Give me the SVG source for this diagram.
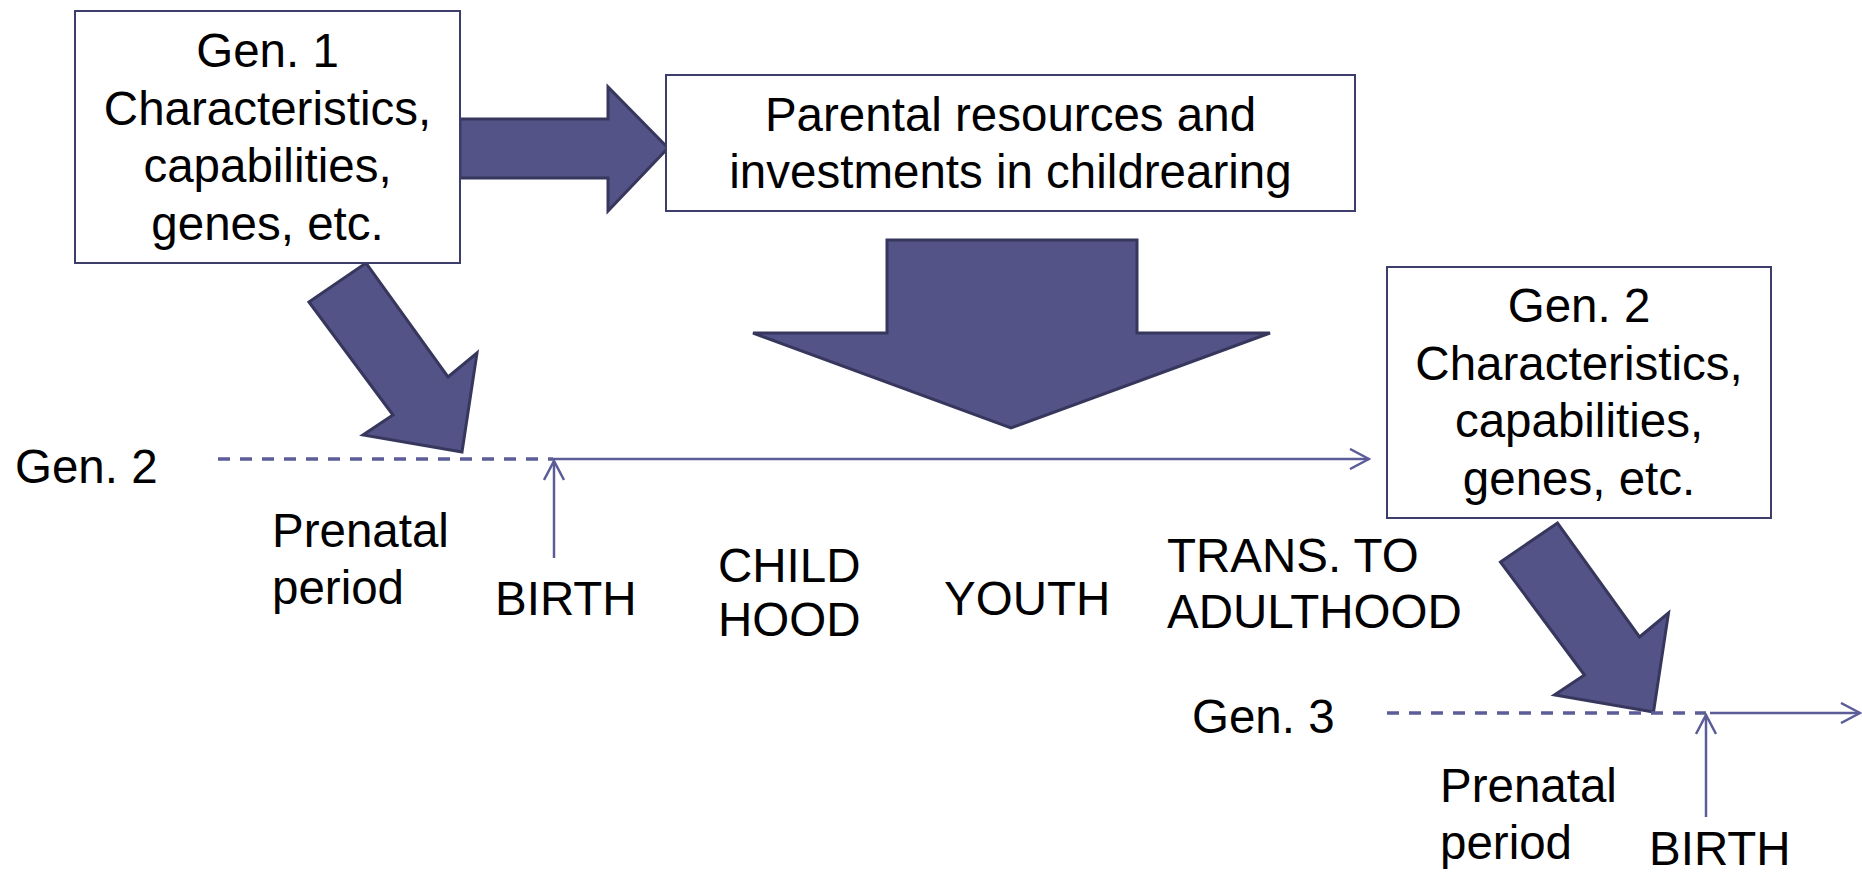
<svg xmlns="http://www.w3.org/2000/svg" width="1862" height="876" viewBox="0 0 1862 876">
  <style>
    .box { fill: #ffffff; stroke: #3d3d6b; stroke-width: 2; }
    .txt { font-family: "Liberation Sans", Arial, sans-serif; font-size: 47.5px; fill: #000000; }
    .mid { text-anchor: middle; }
    .big { fill: #535388; stroke: #37375e; stroke-width: 3; stroke-linejoin: miter; }
    .tl { stroke: #5c5c98; stroke-width: 2.5; fill: none; }
    .dash { stroke-dasharray: 12 10; stroke-width: 3.5; }
  </style>
  <defs>
    <marker id="chev" viewBox="-21 -11 23 22" refX="0" refY="0" markerWidth="23" markerHeight="22" markerUnits="userSpaceOnUse" orient="auto">
      <path d="M-19,-10 L0,0 L-19,10" fill="none" stroke="#5c5c98" stroke-width="2.5"/>
    </marker>
  </defs>

  <g id="connectors">
    <polygon id="arrow-gen1-parental" class="big" points="460,119 608,119 608,87 668,148 608,211 608,178 460,178"/>
    <polygon id="arrow-parental-down" class="big" points="887,240 1137,240 1137,333 1270,333 1011,428 753,333 887,333"/>
    <polygon id="arrow-gen1-gen2" class="big" points="309,302 366,263 448,377 477,353 462,452 363,435 393,415"/>
    <polygon id="arrow-gen2-gen3" class="big" points="309,302 366,263 448,377 477,353 462,452 363,435 393,415" transform="translate(1191.5,260)"/>
    <line class="tl dash" x1="218" y1="459" x2="553" y2="459"/>
    <line class="tl" x1="553" y1="459" x2="1369" y2="459" marker-end="url(#chev)"/>
    <line class="tl" x1="554" y1="558" x2="554" y2="461" marker-end="url(#chev)"/>
    <line class="tl dash" x1="1387" y1="713" x2="1706" y2="713"/>
    <line class="tl" x1="1710" y1="713" x2="1860" y2="713" marker-end="url(#chev)"/>
    <line class="tl" x1="1706" y1="817" x2="1706" y2="715" marker-end="url(#chev)"/>
  </g>

  <g id="gen1">
    <rect class="box" x="75" y="11" width="385" height="252"/>
    <text class="txt mid" x="267.5" y="67">Gen. 1</text>
    <text class="txt mid" x="267.5" y="124.5">Characteristics,</text>
    <text class="txt mid" x="267.5" y="182">capabilities,</text>
    <text class="txt mid" x="267.5" y="239.5">genes, etc.</text>
  </g>

  <g id="parental">
    <rect class="box" x="666" y="75" width="689" height="136"/>
    <text class="txt mid" x="1010.5" y="131">Parental resources and</text>
    <text class="txt mid" x="1010.5" y="188">investments in childrearing</text>
  </g>

  <g id="gen2">
    <rect class="box" x="1387" y="267" width="384" height="251"/>
    <text class="txt mid" x="1579" y="322">Gen. 2</text>
    <text class="txt mid" x="1579" y="379.5">Characteristics,</text>
    <text class="txt mid" x="1579" y="437">capabilities,</text>
    <text class="txt mid" x="1579" y="494.5">genes, etc.</text>
  </g>

  <g id="timeline-gen2-labels">
    <text class="txt" x="15" y="483">Gen. 2</text>
    <text class="txt" x="272" y="547">Prenatal</text>
    <text class="txt" x="272" y="604">period</text>
    <text class="txt" x="495" y="615">BIRTH</text>
    <text class="txt" x="718" y="582">CHILD</text>
    <text class="txt" x="718" y="636">HOOD</text>
    <text class="txt" x="944" y="615">YOUTH</text>
    <text class="txt" x="1167" y="572">TRANS. TO</text>
    <text class="txt" x="1167" y="628">ADULTHOOD</text>
  </g>

  <g id="timeline-gen3-labels">
    <text class="txt" x="1192" y="733">Gen. 3</text>
    <text class="txt" x="1440" y="802">Prenatal</text>
    <text class="txt" x="1440" y="859">period</text>
    <text class="txt" x="1649" y="865">BIRTH</text>
  </g>
</svg>
